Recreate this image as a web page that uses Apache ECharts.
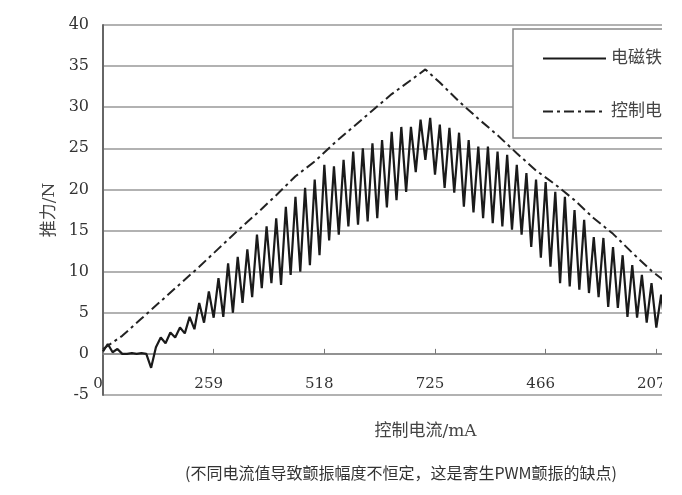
<!DOCTYPE html>
<html>
<head>
<meta charset="utf-8">
<script src="https://cdn.jsdelivr.net/npm/echarts@6/dist/echarts.min.js"></script>
<style>
  html, body { margin: 0; padding: 0; background: #fff; }
  #chart { width: 662px; height: 495px; }
</style>
</head>
<body>
<div id="chart"></div>
<script>
// x-axis tick labels (control current, mA) — one label every 23 samples
const xLabels = ['0', '259', '518', '725', '466', '207'];
const samplesPerLabel = 23;

// Measured thrust (N), sampled uniformly
const thrust = [
  0.3, 1.2, 0.2, 0.6, 0.0, 0.0, 0.1, 0.0, 0.1, 0.0,
  -1.7, 0.8, 2.0, 1.3, 2.6, 2.0, 3.2, 2.5, 4.5, 3.0,
  6.2, 3.8, 7.6, 4.4, 9.2, 4.5, 11.0, 5.0, 11.8, 6.2,
  12.7, 6.9, 14.5, 8.0, 15.5, 8.6, 16.5, 8.4, 17.9, 9.6,
  19.1, 10.0, 20.2, 10.8, 21.2, 12.0, 23.0, 13.8, 22.8, 14.5,
  23.6, 15.5, 24.6, 15.7, 25.0, 16.1, 25.6, 16.5, 26.0, 17.8,
  27.0, 18.7, 27.6, 19.7, 27.6, 22.1, 28.5, 23.6, 28.7, 21.8,
  27.9, 20.2, 27.5, 19.6, 26.9, 17.9, 26.0, 17.2, 25.2, 16.5,
  25.2, 15.9, 24.6, 15.5, 24.2, 15.1, 23.0, 14.5, 22.0, 13.0,
  21.2, 11.7, 20.9, 10.6, 19.7, 8.6, 19.1, 8.2, 17.5, 7.8,
  16.3, 7.4, 14.2, 6.9, 14.1, 5.7, 13.0, 5.6, 12.0, 4.5,
  10.8, 4.4, 9.6, 3.8, 8.6, 3.2, 7.2, 2.5, 6.5, 2.0
];

// Control current trace (scaled), sample index and value
const currentIdx = [0, 4, 8, 12, 16, 20, 24, 28, 32, 36, 40, 44, 48, 52, 56, 60, 64, 67,
  70, 74, 78, 82, 86, 90, 94, 98, 102, 106, 110, 114, 118];
const currentVal = [0.6, 2.2, 4.3, 6.4, 8.5, 10.6, 12.8, 15.0, 17.1, 19.3, 21.6, 23.4, 25.6, 27.6, 29.6, 31.6, 33.3, 34.6,
  33.0, 30.7, 28.6, 26.6, 24.4, 22.3, 20.6, 18.7, 16.5, 14.6, 12.3, 10.1, 8.3];

const seriesNames = ['电磁铁推力', '控制电流'];
const xName = '控制电流/mA';
const yName = '推力/N';
const caption = '(不同电流值导致颤振幅度不恒定，这是寄生PWM颤振的缺点)';

const serif = '"DejaVu Serif", "Noto Sans CJK SC", serif';

const chart = echarts.init(document.getElementById('chart'));
chart.setOption({
  animation: false,
  backgroundColor: '#fff',
  title: {
    text: caption,
    left: 180,
    top: 460,
    textStyle: { fontFamily: '"Noto Sans CJK SC", sans-serif', fontSize: 16, fontWeight: 'normal', color: '#333' }
  },
  legend: {
    orient: 'vertical',
    left: 513,
    top: 29,
    padding: [21, 20, 18, 29],
    itemWidth: 63,
    itemHeight: 20,
    itemGap: 36,
    backgroundColor: '#fff',
    borderColor: '#888',
    borderWidth: 1.5,
    borderRadius: 0,
    itemStyle: { color: 'transparent', borderColor: 'transparent', borderWidth: 0, opacity: 0 },
    textStyle: { fontFamily: serif, fontSize: 17, color: '#444' },
    data: seriesNames
  },
  grid: { left: 103, top: 25, width: 587, height: 370, outerBoundsMode: 'none', containLabel: false },
  xAxis: {
    type: 'value',
    min: 0,
    max: 122,
    interval: samplesPerLabel,
    name: xName,
    nameLocation: 'middle',
    nameGap: 28,
    nameMoveOverlap: false,
    nameTextStyle: { fontFamily: serif, fontSize: 17, color: '#444', padding: [0, 0, 0, 58] },
    axisLine: { onZero: true, lineStyle: { color: '#888', width: 1.5 } },
    axisTick: { inside: true, length: 5, lineStyle: { color: '#777' } },
    axisLabel: {
      margin: -18,
      fontFamily: serif,
      fontSize: 15,
      color: '#333',
      padding: [0, 10, 0, 0],
      formatter: v => {
        const k = v / samplesPerLabel;
        return Number.isInteger(k) && xLabels[k] !== undefined ? xLabels[k] : '';
      }
    },
    splitLine: { show: false }
  },
  yAxis: {
    type: 'value',
    min: -5,
    max: 40,
    interval: 5,
    name: yName,
    nameLocation: 'middle',
    nameGap: 45,
    nameRotate: 90,
    nameTextStyle: { fontFamily: serif, fontSize: 17, color: '#444' },
    axisLine: { show: true, onZero: false, lineStyle: { color: '#666', width: 2 } },
    axisTick: { show: false },
    axisLabel: { margin: 14, fontFamily: serif, fontSize: 16, color: '#333' },
    splitLine: { lineStyle: { color: '#999', width: 1.5 } }
  },
  series: [
    {
      name: seriesNames[0],
      type: 'line',
      symbol: 'none',
      data: thrust.map((v, i) => [i, v]),
      lineStyle: { color: '#1a1a1a', width: 2.2 },
      itemStyle: { color: '#1a1a1a' },
      z: 3
    },
    {
      name: seriesNames[1],
      type: 'line',
      symbol: 'none',
      data: currentIdx.map((x, i) => [x, currentVal[i]]),
      lineStyle: { color: '#222', width: 2, type: [10, 4, 3, 4] },
      itemStyle: { color: '#222' },
      z: 3
    }
  ]
});
</script>
</body>
</html>
